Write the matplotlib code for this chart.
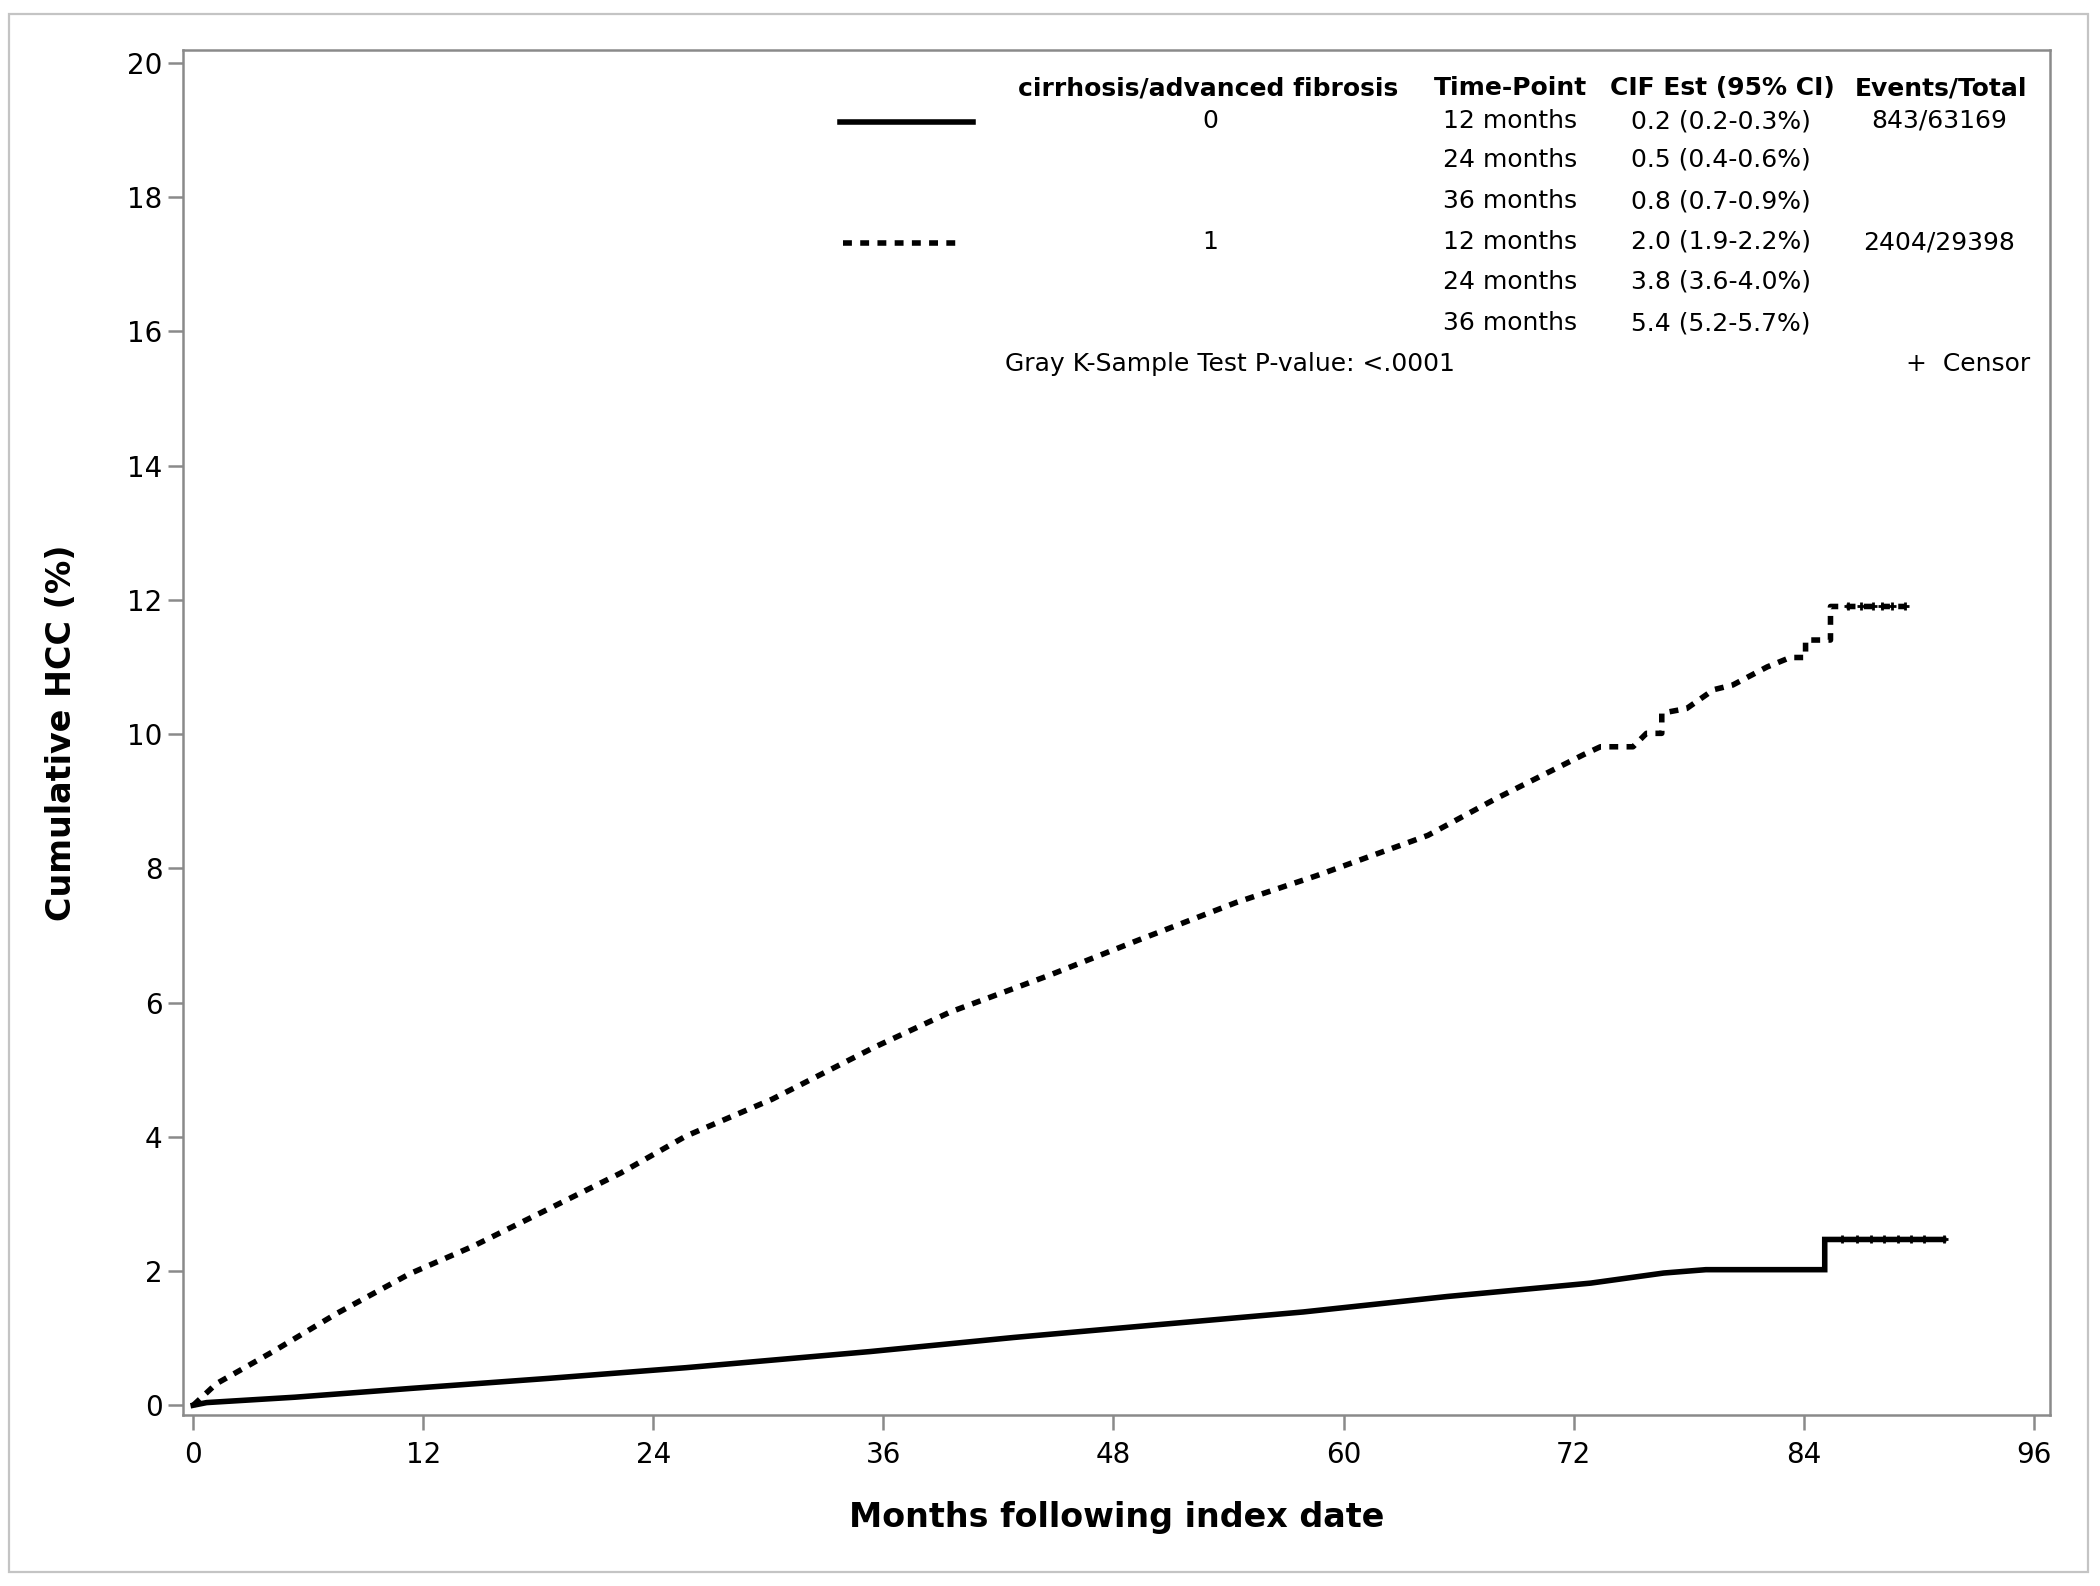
import matplotlib
matplotlib.use('Agg')
import matplotlib.pyplot as plt
from matplotlib.lines import Line2D
from matplotlib.patches import Rectangle

W, H = 2100, 1586

# curva 0 = sem cirrose/fibrose avancada (linha continua)
meses_0 = [0, 0.7, 5.3, 11.3, 18.5, 25.7, 35.3, 42.8, 50.3, 57.9, 65.4, 72.9, 76.7, 78.9, 85.1, 85.1, 91.3]
cif_0 = [0, 0.04, 0.12, 0.25, 0.40, 0.56, 0.80, 1.01, 1.20, 1.39, 1.62, 1.82, 1.97, 2.02, 2.02, 2.47, 2.47]

# curva 1 = cirrose/fibrose avancada (tracejada)
meses_1 = [0, 1.2, 4.1, 7.5, 11.3, 14.6, 18.5, 22.3, 25.7, 30.2, 35.5, 39.5, 44.6, 49.3, 54.4, 58.6,
           64.4, 67.9, 72.5, 73.4, 75.1, 75.8, 76.6, 76.6, 77.9, 79.3, 80.3, 82.1, 83.3, 84.1, 84.1,
           85.4, 85.4, 89.3]
cif_1 = [0, 0.32, 0.79, 1.37, 1.96, 2.37, 2.92, 3.46, 4.01, 4.56, 5.33, 5.86, 6.40, 6.93, 7.49, 7.89,
         8.49, 9.03, 9.69, 9.81, 9.81, 10.01, 10.01, 10.31, 10.38, 10.66, 10.73, 11.00, 11.14, 11.14, 11.40,
         11.40, 11.90, 11.90]

# censuras no final das curvas
censor_meses_0 = [86.0, 86.8, 87.5, 88.2, 88.9, 89.6, 90.3, 91.3]
censor_cif_0 = [2.47] * len(censor_meses_0)
censor_meses_1 = [86.3, 87.0, 87.6, 88.1, 88.6, 89.3]
censor_cif_1 = [11.9] * len(censor_meses_1)

x_ticks = [0, 12, 24, 36, 48, 60, 72, 84, 96]
y_ticks = [0, 2, 4, 6, 8, 10, 12, 14, 16, 18, 20]

# tabela da legenda
grupos = ['0', '1']
time_points = ['12 months', '24 months', '36 months', '12 months', '24 months', '36 months']
cif_est = ['0.2 (0.2-0.3%)', '0.5 (0.4-0.6%)', '0.8 (0.7-0.9%)',
           '2.0 (1.9-2.2%)', '3.8 (3.6-4.0%)', '5.4 (5.2-5.7%)']
eventos = ['843/63169', '', '', '2404/29398', '', '']
p_valor = 'Gray K-Sample Test P-value: <.0001'


def fx(px):
    return px / W


def fy(py):
    return 1 - py / H


fig = plt.figure(figsize=(W / 200, H / 200), dpi=200)
fig.patches.append(Rectangle((fx(9), fy(1572)), fx(2088) - fx(9), fy(14) - fy(1572),
                             transform=fig.transFigure, fill=False, edgecolor='#c4c4c4', linewidth=0.8))

ax = fig.add_axes([fx(182.7), fy(1415), fx(2050) - fx(182.7), fy(50) - fy(1415)])

lw = 2.0
ax.plot(meses_0, cif_0, color='black', linewidth=lw, solid_joinstyle='miter')
ax.plot(meses_1, cif_1, color='black', linewidth=lw, linestyle=(0, (1.6, 1.5)))
ax.plot(censor_meses_0, censor_cif_0, linestyle='none', marker='+', color='black', markersize=3, mew=1.0)
ax.plot(censor_meses_1, censor_cif_1, linestyle='none', marker='+', color='black', markersize=3, mew=1.0)

ax.set_xlim(-0.55, 96.85)
ax.set_ylim(-0.145, 20.19)
ax.set_xticks(x_ticks)
ax.set_yticks(y_ticks)
for s in ax.spines.values():
    s.set_color('#8a8a8a')
    s.set_linewidth(0.9)
ax.tick_params(axis='both', colors='#8a8a8a', length=5.4, width=0.9, labelsize=10, labelcolor='black')
ax.tick_params(axis='x', pad=4)
ax.tick_params(axis='y', pad=1.8)

ax.set_xlabel('Months following index date', fontsize=12, fontweight='bold')
ax.set_ylabel('Cumulative HCC (%)', fontsize=12, fontweight='bold')
ax.xaxis.set_label_coords(0.5, (1415 - 1517) / 1365)
ax.xaxis.label.set_va('center')
ax.yaxis.set_label_coords((62 - 182.7) / 1867.3, 0.5)
ax.yaxis.label.set_va('center')

# legenda / tabela
fs = 9
cabecalho = [('cirrhosis/advanced fibrosis', 1208), ('Time-Point', 1510), ('CIF Est (95% CI)', 1722),
             ('Events/Total', 1941)]
for txt, px in cabecalho:
    fig.text(fx(px), fy(88), txt, ha='center', va='center', fontsize=fs, fontweight='bold')

linhas_y = [121, 160, 201, 242, 282, 323]
for i, py in enumerate(linhas_y):
    fig.text(fx(1510), fy(py), time_points[i], ha='center', va='center', fontsize=fs)
    fig.text(fx(1721), fy(py), cif_est[i], ha='center', va='center', fontsize=fs)
    if eventos[i]:
        fig.text(fx(1939), fy(py), eventos[i], ha='center', va='center', fontsize=fs)

fig.text(fx(1210), fy(121), grupos[0], ha='center', va='center', fontsize=fs)
fig.text(fx(1210), fy(242), grupos[1], ha='center', va='center', fontsize=fs)

fig.add_artist(Line2D([fx(840), fx(973)], [fy(122), fy(122)], transform=fig.transFigure,
                      color='black', linewidth=lw))
fig.add_artist(Line2D([fx(843), fx(963)], [fy(243), fy(243)], transform=fig.transFigure,
                      color='black', linewidth=lw, linestyle=(0, (1.6, 1.5))))

fig.text(fx(1005), fy(364), p_valor, ha='left', va='center', fontsize=fs)
fig.text(fx(2030), fy(364), '+  Censor', ha='right', va='center', fontsize=fs)

fig.savefig('out.png', dpi=200, facecolor='white')
